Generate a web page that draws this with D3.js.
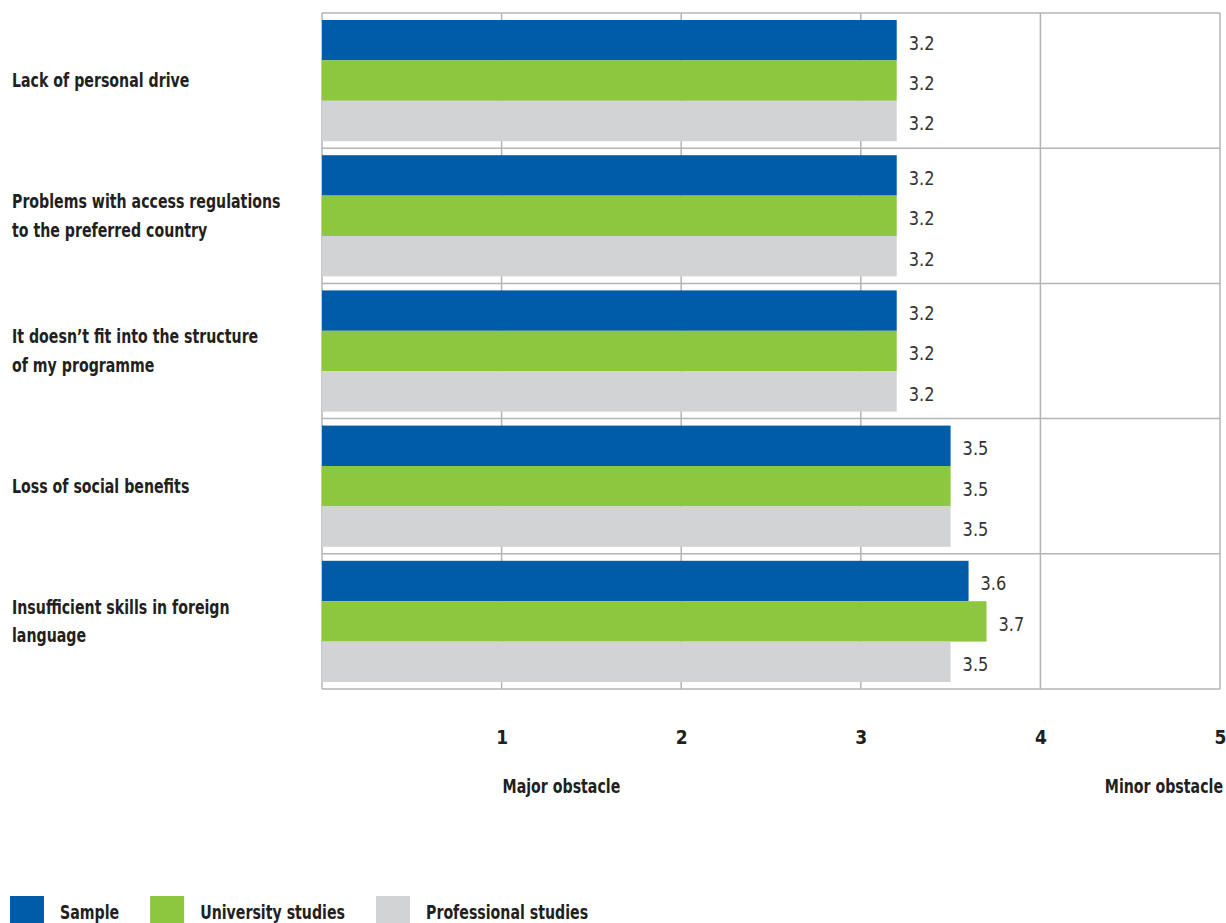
<!DOCTYPE html>
<html>
<head>
<meta charset="utf-8">
<script src="https://cdn.jsdelivr.net/npm/d3@7"></script>
<style>
  html, body { margin: 0; padding: 0; background: #fff; overflow: hidden; }
  svg { display: block; }
  text { font-family: "Liberation Sans Narrow", "DejaVu Sans Condensed", "Roboto", sans-serif; }
</style>
</head>
<body>
<div id="chart"></div>
<script>
// Données
const categories = [
    ["Lack of personal drive"],
    ["Problems with access regulations", "to the preferred country"],
    ["It doesn\u2019t fit into the structure", "of my programme"],
    ["Loss of social benefits"],
    ["Insufficient skills in foreign", "language"]
];
const seriesNames = ["Sample", "University studies", "Professional studies"];
const seriesColors = ["#005ca9", "#8dc63f", "#d1d3d4"];
const sampleValues = [3.2, 3.2, 3.2, 3.5, 3.6];
const universityValues = [3.2, 3.2, 3.2, 3.5, 3.7];
const professionalValues = [3.2, 3.2, 3.2, 3.5, 3.5];
const tickValues = [1, 2, 3, 4, 5];
const axisEndLabels = ["Major obstacle", "Minor obstacle"];

const WIDTH = 1226, HEIGHT = 923;
const MARGIN = { top: 13, right: 6, bottom: 234, left: 322 };
const GRID_COLOR = "#b4b4b4";
const TEXT_COLOR = "#231f20";
const SX = 0.83; // police étroite : compression horizontale

const allValues = [sampleValues, universityValues, professionalValues];
const rows = categories.map((c, i) => ({
    label: c,
    values: allValues.map((v, s) => ({ series: s, value: v[i] }))
}));

const svg = d3.select("#chart").append("svg")
    .attr("width", WIDTH)
    .attr("height", HEIGHT);

const x = d3.scaleLinear()
    .domain([0, 5])
    .range([MARGIN.left, WIDTH - MARGIN.right]);

const y = d3.scaleBand()
    .domain(d3.range(categories.length))
    .range([MARGIN.top, HEIGHT - MARGIN.bottom]);

const bandPad = 7;
const ySub = d3.scaleBand()
    .domain(d3.range(seriesNames.length))
    .range([bandPad, y.bandwidth() - bandPad]);

const plotTop = MARGIN.top, plotBottom = HEIGHT - MARGIN.bottom;

function label(parent, px, py, str, anchor) {
    return parent.append("text")
        .attr("transform", `translate(${px},${py}) scale(${SX},1)`)
        .attr("text-anchor", anchor || "start")
        .attr("font-size", 19)
        .attr("font-weight", "bold")
        .attr("fill", TEXT_COLOR)
        .text(str);
}

// Grille
const grid = svg.append("g");
grid.selectAll("line.v")
    .data([0].concat(tickValues))
    .join("line")
    .attr("class", "v")
    .attr("x1", d => x(d)).attr("x2", d => x(d))
    .attr("y1", plotTop).attr("y2", plotBottom)
    .attr("stroke", GRID_COLOR)
    .attr("stroke-width", 1.5);

grid.selectAll("line.h")
    .data(d3.range(categories.length + 1))
    .join("line")
    .attr("class", "h")
    .attr("x1", x(0)).attr("x2", x(5))
    .attr("y1", d => d < categories.length ? y(d) : plotBottom)
    .attr("y2", d => d < categories.length ? y(d) : plotBottom)
    .attr("stroke", GRID_COLOR)
    .attr("stroke-width", 1.5);

// Barres
const groups = svg.selectAll("g.row")
    .data(rows)
    .join("g")
    .attr("class", "row")
    .attr("transform", (d, i) => `translate(0,${y(i)})`);

groups.selectAll("rect")
    .data(d => d.values)
    .join("rect")
    .attr("x", x(0))
    .attr("y", d => ySub(d.series))
    .attr("width", d => x(d.value) - x(0))
    .attr("height", ySub.bandwidth())
    .attr("fill", d => seriesColors[d.series]);

groups.selectAll("text.val")
    .data(d => d.values)
    .join("text")
    .attr("class", "val")
    .attr("transform", d => `translate(${x(d.value) + 12},${ySub(d.series) + ySub.bandwidth() / 2 + 2}) scale(0.9,1)`)
    .attr("dominant-baseline", "central")
    .attr("font-size", 20)
    .attr("fill", "#333")
    .text(d => d.value.toFixed(1));

// Libellés des catégories
const lineH = 28.5;
groups.append("text")
    .attr("transform", `translate(12,${y.bandwidth() / 2}) scale(${SX},1)`)
    .attr("font-size", 19)
    .attr("font-weight", "bold")
    .attr("fill", TEXT_COLOR)
    .each(function(d) {
        const n = d.label.length;
        d3.select(this).selectAll("tspan")
            .data(d.label)
            .join("tspan")
            .attr("x", 0)
            .attr("y", (l, k) => (k - (n - 1) / 2) * lineH)
            .attr("dominant-baseline", "central")
            .text(l => l);
    });

// Axe X
const xAxis = svg.append("g")
    .attr("transform", `translate(0,${plotBottom})`)
    .call(d3.axisBottom(x).tickValues(tickValues).tickSize(0).tickPadding(42).tickFormat(d3.format("d")));
xAxis.select(".domain").remove();
xAxis.selectAll("text")
    .attr("font-size", 19)
    .attr("font-weight", "bold")
    .attr("fill", TEXT_COLOR)
    .style("font-family", null);

label(svg, x(1) + 1, 793, axisEndLabels[0]);
label(svg, x(5) + 3, 793, axisEndLabels[1], "end");

// Légende
const legend = svg.append("g");
let lx = 10;
seriesNames.forEach((name, i) => {
    legend.append("rect")
        .attr("x", lx)
        .attr("y", 896)
        .attr("width", 34)
        .attr("height", 30)
        .attr("fill", seriesColors[i]);
    const t = label(legend, lx + 50, 919, name);
    lx = lx + 50 + t.node().getComputedTextLength() * SX + 31;
});
</script>
</body>
</html>
